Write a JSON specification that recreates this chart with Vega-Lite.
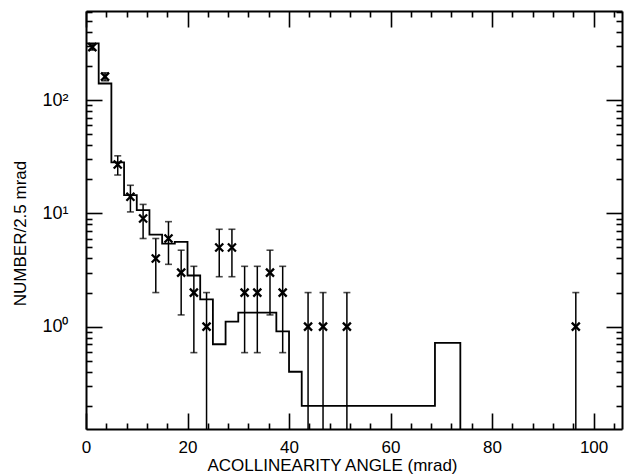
{
  "$schema": "https://vega.github.io/schema/vega-lite/v6.json",
  "width": 536,
  "height": 418,
  "autosize": {"type": "none"},
  "padding": {"left": 86, "top": 11, "right": 2, "bottom": 47},
  "background": "white",
  "config": {
    "view": {"stroke": null},
    "font": "Liberation Sans",
    "axis": {"grid": false, "domainColor": "black", "tickColor": "black", "labelColor": "black", "titleColor": "black", "domainWidth": 2, "tickWidth": 1.6, "labelFont": "Liberation Sans", "titleFont": "Liberation Sans", "titleFontWeight": "normal"}
  },
  "datasets": {
    "hist": [
      {"angle": 0, "count": 317},
      {"angle": 2.5, "count": 140},
      {"angle": 5, "count": 28.2},
      {"angle": 7.5, "count": 14.5},
      {"angle": 10, "count": 10.7},
      {"angle": 12.5, "count": 6.5},
      {"angle": 15, "count": 5.4},
      {"angle": 17.5, "count": 5.6},
      {"angle": 20, "count": 2.83},
      {"angle": 22.5, "count": 1.74},
      {"angle": 25, "count": 0.7},
      {"angle": 27.5, "count": 1.11},
      {"angle": 30, "count": 1.33},
      {"angle": 37.5, "count": 0.91},
      {"angle": 40, "count": 0.4},
      {"angle": 42.5, "count": 0.2},
      {"angle": 68.75, "count": 0.72},
      {"angle": 73.75, "count": 0.125}
    ],
    "pts": [
      {"angle": 1.25, "n": 293, "lo": 276, "hi": 310},
      {"angle": 3.75, "n": 161, "lo": 148, "hi": 174},
      {"angle": 6.25, "n": 27, "lo": 21.8, "hi": 32.2},
      {"angle": 8.75, "n": 14, "lo": 10.3, "hi": 17.7},
      {"angle": 11.25, "n": 9, "lo": 6, "hi": 12},
      {"angle": 13.75, "n": 4, "lo": 2, "hi": 6},
      {"angle": 16.25, "n": 6, "lo": 3.55, "hi": 8.45},
      {"angle": 18.75, "n": 3, "lo": 1.27, "hi": 4.73},
      {"angle": 21.25, "n": 2, "lo": 0.59, "hi": 3.41},
      {"angle": 23.75, "n": 1, "lo": 0.125, "hi": 2},
      {"angle": 26.25, "n": 5, "lo": 2.76, "hi": 7.24},
      {"angle": 28.75, "n": 5, "lo": 2.76, "hi": 7.24},
      {"angle": 31.25, "n": 2, "lo": 0.59, "hi": 3.41},
      {"angle": 33.75, "n": 2, "lo": 0.59, "hi": 3.41},
      {"angle": 36.25, "n": 3, "lo": 1.27, "hi": 4.73},
      {"angle": 38.75, "n": 2, "lo": 0.59, "hi": 3.41},
      {"angle": 43.75, "n": 1, "lo": 0.125, "hi": 2},
      {"angle": 46.7, "n": 1, "lo": 0.125, "hi": 2},
      {"angle": 51.4, "n": 1, "lo": 0.125, "hi": 2},
      {"angle": 96.5, "n": 1, "lo": 0.125, "hi": 2}
    ]
  },
  "resolve": {"axis": {"x": "independent", "y": "independent"}},
  "layer": [
    {
      "data": {"name": "hist"},
      "mark": {"type": "line", "interpolate": "step-after", "color": "black", "strokeWidth": 1.8},
      "encoding": {
        "x": {"field": "angle", "type": "quantitative",
          "scale": {"domain": [0, 105.6], "nice": false, "zero": false},
          "axis": {"orient": "bottom", "values": [0, 20, 40, 60, 80, 100], "tickSize": -16, "labelPadding": 26, "labelFontSize": 17, "labelFlush": false, "labelBaseline": "top",
            "title": "ACOLLINEARITY ANGLE (mrad)", "titleFontSize": 17, "titleX": 246, "titleY": 41, "titleAlign": "center", "titleBaseline": "alphabetic"}},
        "y": {"field": "count", "type": "quantitative",
          "scale": {"type": "log", "domain": [0.125, 611], "nice": false, "clamp": true},
          "axis": {"orient": "left", "values": [1, 10, 100], "tickSize": -16, "labelPadding": 34, "labelFontSize": 18,
            "labelExpr": "datum.value == 1 ? '10⁰' : datum.value == 10 ? '10¹' : '10²'",
            "title": "NUMBER/2.5 mrad", "titleFontSize": 17, "titleAngle": -90, "titleX": -66, "titleY": 222, "titleAlign": "center", "titleBaseline": "middle"}}
      }
    },
    {
      "data": {"name": "pts"},
      "mark": {"type": "rule", "color": "black", "strokeWidth": 1.5},
      "encoding": {
        "x": {"field": "angle", "type": "quantitative",
          "axis": {"orient": "bottom", "values": [4, 8, 12, 16, 24, 28, 32, 36, 44, 48, 52, 56, 64, 68, 72, 76, 84, 88, 92, 96, 104], "tickSize": -6, "labels": false, "domain": false, "title": null}},
        "y": {"field": "lo", "type": "quantitative",
          "axis": {"orient": "left", "values": [0.2, 0.3, 0.4, 0.5, 0.6, 0.7, 0.8, 0.9, 2, 3, 4, 5, 6, 7, 8, 9, 20, 30, 40, 50, 60, 70, 80, 90, 200, 300, 400, 500, 600], "tickSize": -6, "labels": false, "domain": false, "title": null}},
        "y2": {"field": "hi"}
      }
    },
    {
      "data": {"name": "pts"},
      "mark": {"type": "tick", "orient": "horizontal", "color": "black", "size": 7, "thickness": 1.6},
      "encoding": {
        "x": {"field": "angle", "type": "quantitative",
          "axis": {"orient": "top", "values": [0, 20, 40, 60, 80, 100], "tickSize": -16, "labels": false, "domain": true, "title": null}},
        "y": {"field": "hi", "type": "quantitative",
          "axis": {"orient": "right", "values": [1, 10, 100], "tickSize": -16, "labels": false, "domain": true, "title": null}}
      }
    },
    {
      "data": {"name": "pts"},
      "transform": [{"filter": "datum.lo > 0.2"}],
      "mark": {"type": "tick", "orient": "horizontal", "color": "black", "size": 7, "thickness": 1.6},
      "encoding": {
        "x": {"field": "angle", "type": "quantitative",
          "axis": {"orient": "top", "values": [4, 8, 12, 16, 24, 28, 32, 36, 44, 48, 52, 56, 64, 68, 72, 76, 84, 88, 92, 96, 104], "tickSize": -6, "labels": false, "domain": false, "title": null}},
        "y": {"field": "lo", "type": "quantitative",
          "axis": {"orient": "right", "values": [0.2, 0.3, 0.4, 0.5, 0.6, 0.7, 0.8, 0.9, 2, 3, 4, 5, 6, 7, 8, 9, 20, 30, 40, 50, 60, 70, 80, 90, 200, 300, 400, 500, 600], "tickSize": -6, "labels": false, "domain": false, "title": null}}
      }
    },
    {
      "data": {"name": "pts"},
      "mark": {"type": "point", "shape": "M-1,-1L1,1M-1,1L1,-1", "filled": false, "color": "black", "strokeWidth": 2.3, "size": 64, "opacity": 1},
      "encoding": {
        "x": {"field": "angle", "type": "quantitative", "axis": null},
        "y": {"field": "n", "type": "quantitative", "axis": null}
      }
    }
  ]
}
